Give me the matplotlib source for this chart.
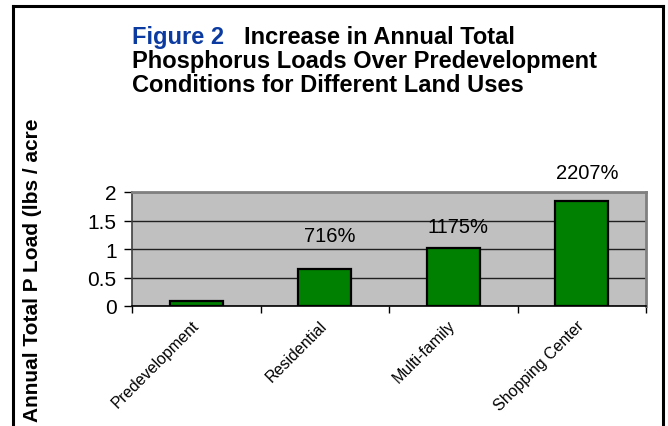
import matplotlib
matplotlib.use("Agg")
import matplotlib.pyplot as plt
from matplotlib.lines import Line2D

categories = ["Predevelopment", "Residential", "Multi-family", "Shopping Center"]
p_load = [0.08, 0.65, 1.02, 1.84]
pct_labels = ["", "716%", "1175%", "2207%"]
pct_label_y = [0, 1.23, 1.40, 2.35]
yticks = [0, 0.5, 1, 1.5, 2]
ytick_labels = ["0", "0.5", "1", "1.5", "2"]

plt.rcParams['font.family'] = ['Liberation Sans', 'DejaVu Sans']

W, H = 668, 427
fig = plt.figure(figsize=(W / 100, H / 100), dpi=100)
fig.patch.set_facecolor("white")

def fx(px):
    return px / W

def fy(py):
    return 1 - py / H

ax = fig.add_axes([fx(132), fy(307), fx(646) - fx(132), fy(193) - fy(307)])
ax.set_facecolor("#C0C0C0")
x = list(range(len(categories)))
ax.bar(x, p_load, width=0.41, color="#008000", edgecolor="black", linewidth=1.6, zorder=3)
ax.set_xlim(-0.5, len(categories) - 0.5)
ax.set_ylim(0, 2)
ax.set_yticks(yticks)
ax.set_yticklabels(ytick_labels, fontsize=15)
ax.yaxis.grid(True, color="#202020", linewidth=1.0, zorder=1)
ax.set_axisbelow(True)

ax.set_xticks(x)
ax.set_xticklabels(categories, rotation=45, ha="right", va="center",
                   rotation_mode="anchor", fontsize=11.5)
ax.tick_params(axis="x", which="major", length=0, pad=12)
ax.set_xticks([i - 0.5 for i in range(len(categories) + 1)], minor=True)
ax.tick_params(axis="x", which="minor", length=5, width=1, color="black", direction="out")
ax.tick_params(axis="y", length=6, width=1, color="black", direction="out", pad=5)

for side in ["top", "right"]:
    ax.spines[side].set_color("#808080")
    ax.spines[side].set_linewidth(2)
ax.spines["left"].set_color("#404040")
ax.spines["left"].set_linewidth(1.2)
ax.spines["bottom"].set_color("black")
ax.spines["bottom"].set_linewidth(1.2)

for i, (lab, yv) in enumerate(zip(pct_labels, pct_label_y)):
    if lab:
        ax.text(i + 0.04, yv, lab, ha="center", va="center", fontsize=14.5,
                clip_on=False, zorder=5)

# y-axis label
fig.text(fx(33), fy(422), "Annual Total P Load (lbs / acre", rotation=90,
         ha="center", va="bottom", fontsize=15, fontweight="bold")

# frame
for (x0, y0, x1, y1) in [(13, 7, 13, 430), (13, 7, 663, 7), (663, 7, 663, 430)]:
    fig.add_artist(Line2D([fx(x0), fx(x1)], [fy(y0), fy(y1)], color="black",
                          linewidth=2.2, transform=fig.transFigure))

# title
TS = 17
t1 = fig.text(fx(132), fy(44), "Figure 2", color="#0B3AA0", fontsize=TS,
              fontweight="bold", ha="left", va="baseline")
fig.canvas.draw()
bb = t1.get_window_extent(renderer=fig.canvas.get_renderer())
fig.text(fx(bb.x1 + 20), fy(44), "Increase in Annual Total", color="black",
         fontsize=TS, fontweight="bold", ha="left", va="baseline")
fig.text(fx(132), fy(68), "Phosphorus Loads Over Predevelopment", color="black",
         fontsize=TS, fontweight="bold", ha="left", va="baseline")
fig.text(fx(132), fy(92), "Conditions for Different Land Uses", color="black",
         fontsize=TS, fontweight="bold", ha="left", va="baseline")

fig.savefig("out.png", dpi=100)
